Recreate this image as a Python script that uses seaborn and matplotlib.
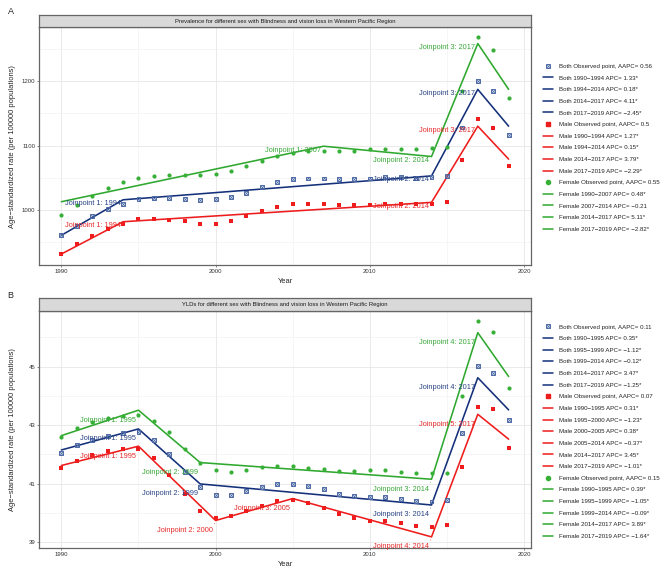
"""Joinpoint trends for blindness and vision loss in the Western Pacific Region."""

import matplotlib
matplotlib.use("Agg")
import matplotlib.pyplot as plt
import numpy as np
import pandas as pd
import seaborn as sns
from matplotlib.lines import Line2D
from matplotlib.legend_handler import HandlerTuple

# ---- data -------------------------------------------------------------
YEARS = list(range(1990, 2020))
SEXES = ["Both", "Male", "Female"]

# Panel A: prevalence (per 100000)
PREV_BOTH = [961, 976, 991, 1002, 1010, 1017, 1019, 1019, 1017, 1016,
             1017, 1021, 1027, 1036, 1043, 1048, 1049, 1049, 1048, 1048,
             1049, 1051, 1051, 1050, 1051, 1053, 1128, 1200, 1184, 1117]
PREV_MALE = [932, 947, 960, 971, 979, 986, 987, 985, 983, 979,
             979, 983, 991, 998, 1005, 1009, 1010, 1009, 1008, 1008,
             1008, 1010, 1010, 1009, 1010, 1013, 1078, 1141, 1127, 1069]
PREV_FEMALE = [992, 1008, 1022, 1034, 1043, 1050, 1053, 1055, 1055, 1055,
               1056, 1060, 1068, 1076, 1084, 1089, 1091, 1092, 1092, 1092,
               1095, 1095, 1095, 1095, 1096, 1097, 1184, 1268, 1248, 1173]

PREV_JP_BOTH = [1990, 1994, 2014, 2017, 2019]
PREV_FIT_BOTH = [961, 1016, 1053, 1187, 1130]
PREV_JP_MALE = [1990, 1994, 2014, 2017, 2019]
PREV_FIT_MALE = [932, 982, 1012, 1130, 1079]
PREV_JP_FEMALE = [1990, 2007, 2014, 2017, 2019]
PREV_FIT_FEMALE = [1013, 1099, 1083, 1258, 1187]

PREV_LEGEND = [
    "Both Observed point, AAPC= 0.56",
    "Both 1990\u22121994 APC= 1.33*",
    "Both 1994\u22122014 APC= 0.18*",
    "Both 2014\u22122017 APC= 4.11*",
    "Both 2017\u22122019 APC= \u22122.45*",
    "Male Observed point, AAPC= 0.5",
    "Male 1990\u22121994 APC= 1.27*",
    "Male 1994\u22122014 APC= 0.15*",
    "Male 2014\u22122017 APC= 3.79*",
    "Male 2017\u22122019 APC= \u22122.29*",
    "Female Observed point, AAPC= 0.55",
    "Female 1990\u22122007 APC= 0.48*",
    "Female 2007\u22122014 APC= \u22120.21",
    "Female 2014\u22122017 APC= 5.11*",
    "Female 2017\u22122019 APC= \u22122.82*",
]

# Panel B: YLDs (per 100000)
YLD_BOTH = [42.04, 42.32, 42.50, 42.64, 42.72, 42.75, 42.48, 42.00, 41.41, 40.88,
            40.62, 40.62, 40.75, 40.89, 40.98, 41.00, 40.91, 40.81, 40.66, 40.58,
            40.55, 40.55, 40.47, 40.41, 40.39, 40.43, 42.72, 45.02, 44.77, 43.17]
YLD_MALE = [41.53, 41.79, 41.98, 42.10, 42.17, 42.18, 41.86, 41.28, 40.66, 40.07,
            39.83, 39.88, 40.05, 40.23, 40.41, 40.45, 40.35, 40.18, 39.96, 39.83,
            39.74, 39.71, 39.64, 39.56, 39.53, 39.59, 41.58, 43.63, 43.54, 42.21]
YLD_FEMALE = [42.60, 42.89, 43.09, 43.24, 43.31, 43.35, 43.14, 42.75, 42.18, 41.72,
              41.46, 41.41, 41.46, 41.57, 41.61, 41.61, 41.55, 41.50, 41.44, 41.44,
              41.45, 41.45, 41.41, 41.38, 41.35, 41.38, 44.00, 46.57, 46.17, 44.26]

YLD_JP_BOTH = [1990, 1995, 1999, 2014, 2017, 2019]
YLD_FIT_BOTH = [42.15, 42.87, 40.99, 40.27, 44.62, 43.52]
YLD_JP_MALE = [1990, 1995, 2000, 2005, 2014, 2017, 2019]
YLD_FIT_MALE = [41.62, 42.28, 39.74, 40.49, 39.18, 43.37, 42.52]
YLD_JP_FEMALE = [1990, 1995, 1999, 2014, 2017, 2019]
YLD_FIT_FEMALE = [42.64, 43.51, 41.72, 41.15, 46.16, 44.66]

YLD_LEGEND = [
    "Both Observed point, AAPC= 0.11",
    "Both 1990\u22121995 APC= 0.35*",
    "Both 1995\u22121999 APC= \u22121.12*",
    "Both 1999\u22122014 APC= \u22120.12*",
    "Both 2014\u22122017 APC= 3.47*",
    "Both 2017\u22122019 APC= \u22121.25*",
    "Male Observed point, AAPC= 0.07",
    "Male 1990\u22121995 APC= 0.31*",
    "Male 1995\u22122000 APC= \u22121.23*",
    "Male 2000\u22122005 APC= 0.38*",
    "Male 2005\u22122014 APC= \u22120.37*",
    "Male 2014\u22122017 APC= 3.45*",
    "Male 2017\u22122019 APC= \u22121.01*",
    "Female Observed point, AAPC= 0.15",
    "Female 1990\u22121995 APC= 0.39*",
    "Female 1995\u22121999 APC= \u22121.05*",
    "Female 1999\u22122014 APC= \u22120.09*",
    "Female 2014\u22122017 APC= 3.89*",
    "Female 2017\u22122019 APC= \u22121.64*",
]

# ---- style ------------------------------------------------------------
LINE_COLORS = {"Both": "#14307a", "Male": "#ee1c1c", "Female": "#2fa82f"}
POINT_COLORS = {"Both": "#4d6aa6", "Male": "#ee1c1c", "Female": "#36b036"}
LABEL_COLORS = {"Both": "#2a4485", "Male": "#e62a2a", "Female": "#3aa83a"}

W, H = 669, 574
sns.set_theme(style="whitegrid")
plt.rcParams["font.family"] = ["Liberation Sans", "DejaVu Sans"]


def px_rect(left, top, right, bottom):
    return [left / W, 1 - bottom / H, (right - left) / W, (bottom - top) / H]


def point_handle(sex):
    c = POINT_COLORS[sex]
    if sex == "Both":
        return (Line2D([], [], ls="", marker="s", ms=2.8, mfc="none", mec=c, mew=0.7),
                Line2D([], [], ls="", marker="x", ms=2.0, mec=c, mew=0.6))
    if sex == "Male":
        return Line2D([], [], ls="", marker="s", ms=3.0, color=c)
    return Line2D([], [], ls="", marker="o", ms=3.0, color=c)


def draw_panel(fig, top, letter, title, obs, fits, ylim, yticks, yminor,
               label_dy, segments):
    ax = fig.add_axes(px_rect(39, top + 12.4, 531, top + 250))
    strip = fig.add_axes(px_rect(39, top, 531, top + 12.4))

    df = pd.DataFrame({
        "year": YEARS * 3,
        "rate": obs["Both"] + obs["Male"] + obs["Female"],
        "sex": np.repeat(SEXES, len(YEARS)),
    })

    for sex in SEXES:
        jp, fit = fits[sex]
        sns.lineplot(x=jp, y=fit, color=LINE_COLORS[sex], lw=1.15, ax=ax,
                     legend=False, zorder=2)
    for sex in SEXES:
        sub = df[df["sex"] == sex]
        c = POINT_COLORS[sex]
        if sex == "Both":
            sns.scatterplot(data=sub, x="year", y="rate", marker="s", s=8,
                            facecolor="none", edgecolor=c, linewidth=0.7,
                            ax=ax, legend=False, zorder=3)
            sns.scatterplot(data=sub, x="year", y="rate", marker="x", s=4,
                            color=c, linewidth=0.6, ax=ax, legend=False, zorder=3)
        elif sex == "Male":
            sns.scatterplot(data=sub, x="year", y="rate", marker="s", s=9,
                            color=c, linewidth=0, ax=ax, legend=False, zorder=3)
        else:
            sns.scatterplot(data=sub, x="year", y="rate", marker="o", s=9,
                            color=c, linewidth=0, ax=ax, legend=False, zorder=3)

    # joinpoint labels (repel-style, short leader segment when far)
    for sex in SEXES:
        jp, fit = fits[sex]
        for k, (yr, val) in enumerate(zip(jp[1:-1], fit[1:-1]), start=1):
            arrow = None
            if segments:
                arrow = dict(arrowstyle="-", lw=0.45, color=LABEL_COLORS[sex],
                             shrinkA=0, shrinkB=2.2, relpos=(1.0, 1.0))
            ax.annotate(f"Joinpoint {k}: {yr}", xy=(yr, val),
                        xytext=(-2.5, -label_dy), textcoords="offset pixels",
                        ha="right", va="center", fontsize=5.3,
                        color=LABEL_COLORS[sex], zorder=4, arrowprops=arrow)

    ax.set_xlim(1988.55, 2020.45)
    ax.set_ylim(*ylim)
    ax.set_xticks([1990, 2000, 2010, 2020])
    ax.set_xticks([1995, 2005, 2015], minor=True)
    ax.set_yticks(yticks)
    ax.set_yticks(yminor, minor=True)
    ax.grid(which="major", color="#e6e6e6", lw=0.6)
    ax.grid(which="minor", color="#f0f0f0", lw=0.4)
    ax.set_facecolor("white")
    for sp in ax.spines.values():
        sp.set_color("#666666")
        sp.set_linewidth(0.9)
    ax.tick_params(which="major", length=1.6, width=0.5, color="#555555",
                   labelsize=4.3, labelcolor="#333333", pad=1.2,
                   bottom=True, left=True)
    ax.tick_params(which="minor", length=0)
    ax.set_xlabel("Year", fontsize=5.4)
    ax.set_ylabel("Age\u2212standardized rate (per 100000 populations)", fontsize=5.4)
    ax.xaxis.set_label_coords(0.5, -0.055)
    ax.yaxis.set_label_coords(-0.047, 0.5)

    strip.set_xticks([])
    strip.set_yticks([])
    strip.set_facecolor("#d9d9d9")
    for sp in strip.spines.values():
        sp.set_color("#666666")
        sp.set_linewidth(0.9)
    strip.text(0.5, 0.5, title, ha="center", va="center", fontsize=4.2,
               color="#1a1a1a", transform=strip.transAxes)

    fig.text(10.5 / W, 1 - (top - 3) / H, letter, ha="center", va="center",
             fontsize=6.5)

    handles = []
    for sex in SEXES:
        handles.append(point_handle(sex))
        for _ in fits[sex][0][:-1]:
            handles.append(Line2D([], [], color=LINE_COLORS[sex], lw=1.1))
    return ax, handles


fig = plt.figure(figsize=(W / 100, H / 100), dpi=100)

axA, hA = draw_panel(
    fig, 15, "A",
    "Prevalence for different sex with Blindness and vision loss in Western Pacific Region",
    {"Both": PREV_BOTH, "Male": PREV_MALE, "Female": PREV_FEMALE},
    {"Both": (PREV_JP_BOTH, PREV_FIT_BOTH), "Male": (PREV_JP_MALE, PREV_FIT_MALE),
     "Female": (PREV_JP_FEMALE, PREV_FIT_FEMALE)},
    (915, 1283), [1000, 1100, 1200], [950, 1050, 1150, 1250], 4, False)

axB, hB = draw_panel(
    fig, 298.3, "B",
    "YLDs for different sex with Blindness and vision loss in Western Pacific Region",
    {"Both": YLD_BOTH, "Male": YLD_MALE, "Female": YLD_FEMALE},
    {"Both": (YLD_JP_BOTH, YLD_FIT_BOTH), "Male": (YLD_JP_MALE, YLD_FIT_MALE),
     "Female": (YLD_JP_FEMALE, YLD_FIT_FEMALE)},
    (38.79, 46.91), [39, 41, 43, 45], [40, 42, 44, 46], 10, True)

for handles, labels, top in [(hA, PREV_LEGEND, 63.7), (hB, YLD_LEGEND, 324.3)]:
    fig.legend(handles, labels, loc="upper left",
               bbox_to_anchor=(543.3 / W, 1 - top / H),
               frameon=False, fontsize=4.4, handlelength=1.55,
               handletextpad=0.95, labelspacing=1.04, borderpad=0,
               borderaxespad=0, labelcolor="#222222",
               handler_map={tuple: HandlerTuple(ndivide=1, pad=0)})

fig.savefig("out.png", dpi=100)
